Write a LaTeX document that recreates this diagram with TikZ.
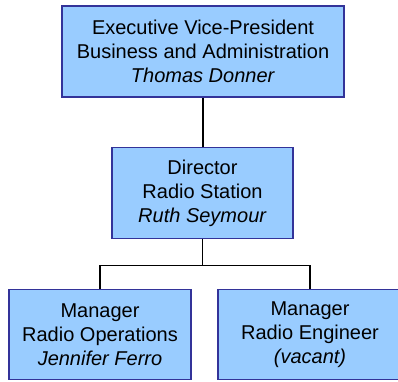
\documentclass[tikz,border=0pt]{standalone}
\usepackage{fontspec}
\setmainfont{Liberation Sans}
\usetikzlibrary{positioning}
\definecolor{postfill}{HTML}{99CCFF}
\definecolor{postline}{HTML}{333399}
\tikzset{
  post/.style={draw=postline, fill=postfill, line width=1.4pt, align=center,
    font=\fontsize{20}{24}\selectfont, inner sep=0pt, minimum height=91pt},
  link/.style={line width=1.4pt, black}
}
\begin{document}
\begin{tikzpicture}[x=1pt,y=1pt]
    \useasboundingbox (0,0) rectangle (398,-381);
    \node[post, minimum width=282pt] (evp) at (203,-51.5)
        {Executive Vice-President\\Business and Administration\\\textit{Thomas Donner}};
    \node[post, minimum width=181pt] (dir) at (202.5,-193)
        {Director\\Radio Station\\\textit{Ruth Seymour}};
    \node[post, minimum width=182pt, minimum height=90pt] (ops) at (100,-334.5)
        {Manager\\Radio Operations\\\textit{Jennifer Ferro}};
    \node[post, minimum width=184pt, minimum height=90pt] (eng) at (310,-334.5)
        {Manager\\Radio Engineer\\\textit{(vacant)}};
    % connectors
    \draw[link] (evp.south) -- (evp.south |- dir.north);
    \draw[link] (dir.south) -- ++(0,-26) coordinate (fork);
    \draw[link] (ops.north) |- (fork) -| (eng.north);
\end{tikzpicture}
\end{document}
